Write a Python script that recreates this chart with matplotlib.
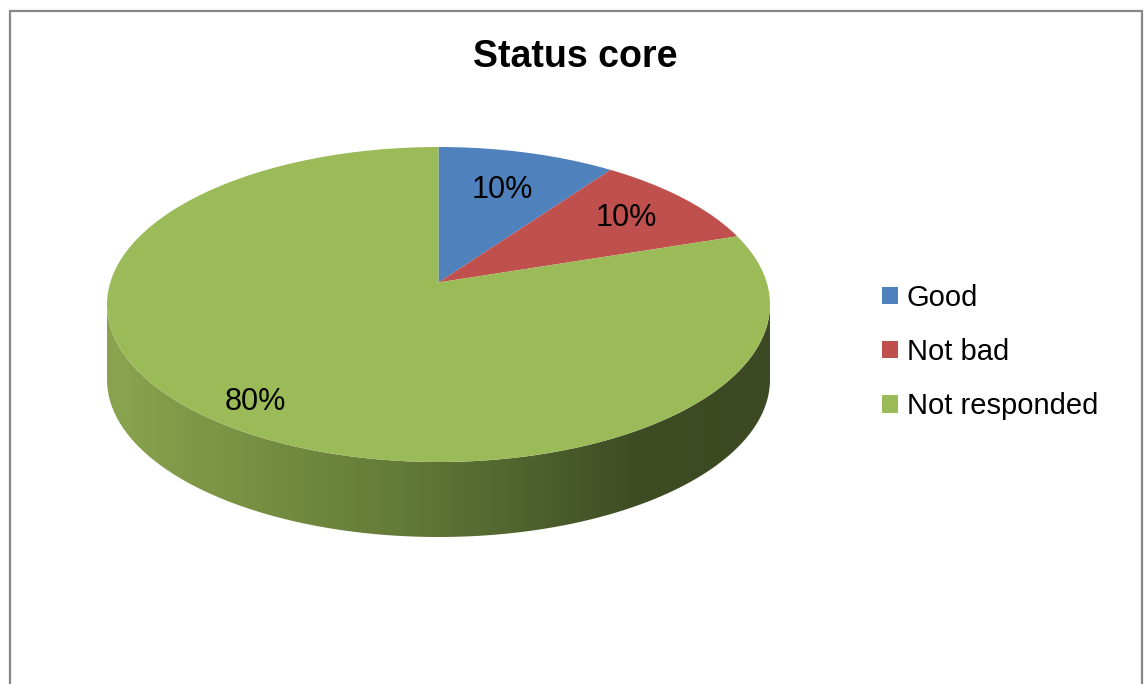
import numpy as np
import matplotlib.pyplot as plt
from matplotlib.patches import Rectangle, Polygon, Ellipse
from matplotlib.colors import LinearSegmentedColormap

plt.rcParams['font.family'] = ['Liberation Sans', 'DejaVu Sans']

# chart data
labels = ['Good', 'Not bad', 'Not responded']
values = [10, 10, 80]
colors = ['#4f81bd', '#c0504d', '#9bbb59']
title = 'Status core'

W, H = 1144, 684
fig = plt.figure(figsize=(W / 100, H / 100), dpi=100)

# outer frame
fig.add_artist(Rectangle((10 / W, -0.05), 1132 / W, 1.05 - 11 / H,
                         transform=fig.transFigure, fill=False,
                         edgecolor='#868686', linewidth=1.6))

# pie placement in pixels: top face ellipse and thickness of the side
left, right, top, bottom = 107, 770, 147, 462
depth = 75
ry = (bottom - top) / 2.0
d = depth / ry
# the slices meet a bit above the middle of the top face (perspective)
apex = (0.0, 0.14)

ax = fig.add_axes([left / W, 1 - (bottom + depth) / H,
                   (right - left) / W, (bottom + depth - top) / H])

wedges, texts, autotexts = ax.pie(
    values, colors=colors, startangle=90, counterclock=False,
    autopct='%d%%', radius=1.6, center=apex,
    textprops={'fontsize': 22, 'color': 'black'},
    wedgeprops={'linewidth': 0, 'zorder': 3})
ax.set_aspect('auto')

face = Ellipse((0, 0), 2, 2, transform=ax.transData)
for w in wedges:
    w.set_clip_path(face)
    w.set_clip_on(True)

# label distance from the apex for each slice
label_dist = [0.62, 0.70, 0.94]
start = 90.0
total = float(sum(values))
for t, v, r in zip(autotexts, values, label_dist):
    mid = np.deg2rad(start - 360.0 * v / total / 2)
    t.set_position((apex[0] + r * np.cos(mid), apex[1] + r * np.sin(mid)))
    t.set_zorder(5)
    start -= 360.0 * v / total

# side band of the disc with a left-to-right shading
th = np.linspace(np.pi, 2 * np.pi, 200)
xs = np.cos(th)
ys = np.sin(th)
side = np.concatenate([np.column_stack([xs, ys]),
                       np.column_stack([xs[::-1], ys[::-1] - d])])
band = Polygon(side, closed=True, facecolor='none', edgecolor='none')
ax.add_patch(band)
shade = LinearSegmentedColormap.from_list(
    'side', [(0.0, '#8aa44e'), (0.45, '#627a37'), (0.8, '#3e4c24'), (1.0, '#3c4922')])
grad = np.linspace(0, 1, 256).reshape(1, -1)
img = ax.imshow(grad, cmap=shade, extent=[-1, 1, -1 - d, 0], aspect='auto',
                zorder=1, interpolation='bicubic')
img.set_clip_path(band)
ax.set_xlim(-1, 1)
ax.set_ylim(-1 - d, 1)
ax.axis('off')

fig.text(575 / W, 1 - 67 / H, title, ha='center', va='baseline',
         fontsize=27, fontweight='bold')

handles = [Rectangle((0, 0), 1, 1, facecolor=c, edgecolor='none') for c in colors]
fig.legend(handles, labels, loc='center left', bbox_to_anchor=(882 / W, 1 - 352 / H),
           frameon=False, fontsize=21, handlelength=0.55, handleheight=0.55,
           handletextpad=0.3, labelspacing=0.9, borderpad=0, borderaxespad=0)

fig.savefig('out.png', dpi=100)
